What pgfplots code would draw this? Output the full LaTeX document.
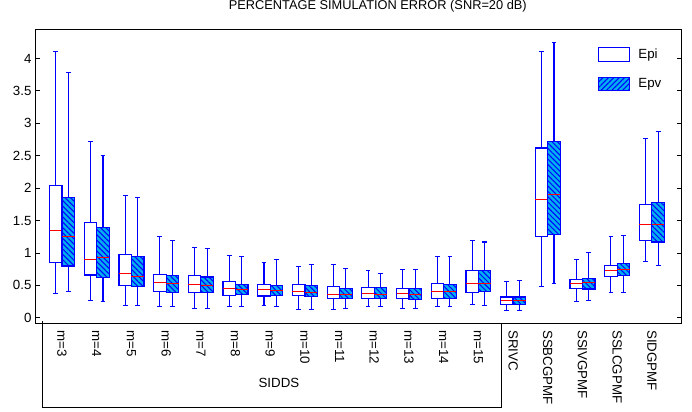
\documentclass[border=0pt]{standalone}
\usepackage{fontspec}
\setmainfont{Liberation Sans}
\usepackage{pgfplots}
\pgfplotsset{compat=1.18}
\usepgfplotslibrary{statistics}
\usetikzlibrary{patterns.meta}

\newcommand\fs{\fontsize{13.3bp}{15bp}\selectfont}

\pgfplotsset{
  box common/.style={
    draw=blue, line width=1.2bp, solid, mark=none, forget plot,
    boxplot/draw direction=y,
    boxplot/box extend=0.36,
    boxplot/whisker extend=0.14,
    boxplot/every whisker/.style={draw=blue, line width=1.1bp},
    boxplot/every median/.style={draw=red, line width=1bp},
  },
  epi box/.style={box common, boxplot/every box/.style={draw=blue, fill=white}},
  epv box/.style={box common, boxplot/every box/.style={draw=blue, fill=cyan,
      postaction={pattern={Lines[angle=-45,distance=3.8bp,line width=1bp]}, pattern color=blue}}},
}
% style, position, lower whisker, Q1, median, Q3, upper whisker
\newcommand\bx[7]{\addplot[#1, boxplot prepared={draw position=#2, lower whisker=#3,
  lower quartile=#4, median=#5, upper quartile=#6, upper whisker=#7}] coordinates {};}

\begin{document}
\begin{tikzpicture}
\path[use as bounding box] (-35bp,-89bp) rectangle (657bp,323bp);
\begin{axis}[
  at={(0,0)}, anchor=south west,
  scale only axis, width=646.7bp, height=293.7bp,
  xmin=-0.78, xmax=17.86, ymin=-0.08, ymax=4.45,
  clip=false,
  axis line style={black, line width=0.8bp},
  tick align=inside,
  major tick length=5bp,
  tick style={black, line width=0.8bp},
  xtick={0,...,17},
  xticklabels={{m=3},{m=4},{m=5},{m=6},{m=7},{m=8},{m=9},{m=10},{m=11},{m=12},{m=13},{m=14},{m=15},SRIVC,SSBCGPMF,SSIVGPMF,SSLCGPMF,SIDGPMF},
  major x tick style={draw=none},
  xticklabel style={font=\fs, rotate=-90, anchor=west, inner xsep=7bp},
  ytick={0,0.5,...,4},
  yticklabel style={font=\fs},
  /pgf/number format/assume math mode=true,
  title={PERCENTAGE SIMULATION ERROR (SNR=20 dB)},
  title style={font=\fontsize{12.8bp}{14bp}\selectfont, at={(0.53,1)}, anchor=base, yshift=14bp},
  legend style={draw=none, fill=none, font=\fs, at={(0.8706,0.94)}, anchor=north west,
    inner sep=0pt, row sep=15bp, column sep=7bp, nodes={inner sep=1bp}},
  legend cell align=left,
]
\addlegendimage{legend image code/.code={\draw[blue, line width=1.2bp, fill=white] (0bp,-6.7bp) rectangle (31bp,6.7bp);}}
\addlegendentry{Epi}
\addlegendimage{legend image code/.code={\draw[blue, line width=1.2bp, fill=cyan,
   postaction={pattern={Lines[angle=45,distance=3.8bp,line width=1bp]}, pattern color=blue}] (0bp,-6.7bp) rectangle (31bp,6.7bp);}}
\addlegendentry{Epv}

% Epi
\bx{epi box}{-0.18}{0.376}{0.855}{1.35}{2.04}{4.11}
\bx{epi box}{0.82}{0.273}{0.66}{0.905}{1.47}{2.725}
\bx{epi box}{1.82}{0.196}{0.50}{0.685}{0.977}{1.88}
\bx{epi box}{2.82}{0.18}{0.407}{0.546}{0.663}{1.26}
\bx{epi box}{3.82}{0.145}{0.39}{0.515}{0.648}{1.08}
\bx{epi box}{4.82}{0.18}{0.35}{0.45}{0.557}{0.967}
\bx{epi box}{5.82}{0.185}{0.335}{0.432}{0.515}{0.86}
\bx{epi box}{6.82}{0.134}{0.345}{0.407}{0.515}{0.79}
\bx{epi box}{7.82}{0.134}{0.293}{0.36}{0.478}{0.823}
\bx{epi box}{8.82}{0.175}{0.30}{0.37}{0.468}{0.73}
\bx{epi box}{9.82}{0.139}{0.293}{0.376}{0.453}{0.74}
\bx{epi box}{10.82}{0.17}{0.293}{0.412}{0.525}{0.94}
\bx{epi box}{11.82}{0.20}{0.39}{0.535}{0.73}{1.19}
\bx{epi box}{12.82}{0.119}{0.211}{0.268}{0.32}{0.555}
\bx{epi box}{13.82}{0.484}{1.255}{1.82}{2.62}{4.11}
\bx{epi box}{14.82}{0.253}{0.447}{0.53}{0.586}{0.905}
\bx{epi box}{15.82}{0.386}{0.632}{0.725}{0.808}{1.25}
\bx{epi box}{16.82}{0.864}{1.19}{1.434}{1.753}{2.766}
% Epv
\bx{epv box}{0.18}{0.40}{0.80}{1.255}{1.85}{3.78}
\bx{epv box}{1.18}{0.247}{0.623}{0.925}{1.39}{2.50}
\bx{epv box}{2.18}{0.196}{0.484}{0.638}{0.947}{1.85}
\bx{epv box}{3.18}{0.18}{0.39}{0.53}{0.648}{1.19}
\bx{epv box}{4.18}{0.145}{0.385}{0.494}{0.628}{1.065}
\bx{epv box}{5.18}{0.18}{0.355}{0.443}{0.52}{0.94}
\bx{epv box}{6.18}{0.17}{0.34}{0.422}{0.50}{0.895}
\bx{epv box}{7.18}{0.134}{0.33}{0.386}{0.504}{0.823}
\bx{epv box}{8.18}{0.14}{0.293}{0.36}{0.453}{0.756}
\bx{epv box}{9.18}{0.175}{0.30}{0.365}{0.463}{0.68}
\bx{epv box}{10.18}{0.139}{0.288}{0.36}{0.448}{0.74}
\bx{epv box}{11.18}{0.17}{0.293}{0.412}{0.515}{0.95}
\bx{epv box}{12.18}{0.185}{0.407}{0.535}{0.735}{1.17}
\bx{epv box}{13.18}{0.119}{0.211}{0.262}{0.32}{0.577}
\bx{epv box}{14.18}{0.535}{1.28}{1.907}{2.714}{4.24}
\bx{epv box}{15.18}{0.273}{0.443}{0.54}{0.607}{1.01}
\bx{epv box}{16.18}{0.396}{0.653}{0.75}{0.838}{1.27}
\bx{epv box}{17.18}{0.80}{1.17}{1.445}{1.773}{2.88}

% group bracket under the SIDDS orders
\draw[black, line width=0.8bp] (axis cs:-0.568,-0.05) -- (axis cs:-0.568,-1.382)
  -- (axis cs:12.67,-1.382) -- (axis cs:12.67,-0.08);
\node[font=\fs] at (axis cs:6.25,-1.0) {SIDDS};
\end{axis}
\end{tikzpicture}
\end{document}
